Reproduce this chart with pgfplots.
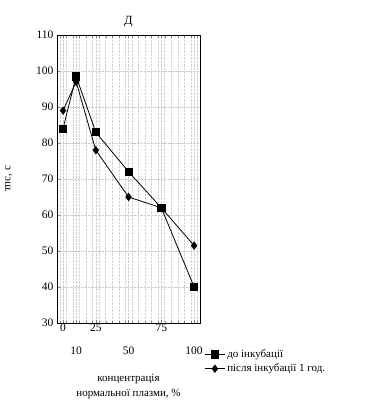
\documentclass[border=0pt]{standalone}
\usepackage{pgfplots}
\pgfplotsset{compat=1.18}
\usepackage{fontspec}
\setmainfont{Liberation Serif}
\begin{document}
\begin{tikzpicture}
\useasboundingbox (-57pt,-80pt) rectangle (313pt,323pt);
\begin{axis}[
  scale only axis,
  width=143pt, height=288pt,
  xmin=-4.6, xmax=104.5,
  ymin=30, ymax=110,
  ytick={30,40,50,60,70,80,90,100,110},
  xtick={0,10,25,50,75,100},
  xticklabels={0,{\strut\\10},25,{\strut\\50},75,{\strut\\100}},
  xticklabel style={align=center, anchor=north, font=\fontsize{11.5}{18}\selectfont, inner sep=1pt},
  yticklabel style={font=\fontsize{11.5}{13}\selectfont},
  /pgf/number format/assume math mode=true,
  minor xtick={-2.5,2.5,...,102.5},
  xmajorgrids, xminorgrids, ymajorgrids,
  grid style={densely dotted, gray!40, line width=0.4pt},
  minor grid style={densely dotted, gray!35, line width=0.4pt},
  tick align=inside,
  major tick length=3pt, minor tick length=2.5pt,
  xtick pos=both, ytick pos=left,
  axis line style={line width=0.9pt},
  title={Д},
  title style={font=\fontsize{12.5}{14}\selectfont, yshift=-2pt},
  ylabel={тпс, с},
  ylabel style={font=\fontsize{11}{13}\selectfont, at={(axis description cs:-0.29,0.5)}},
  xlabel={концентрація\\нормальної плазми, \%},
  xlabel style={align=center, font=\fontsize{11}{15}\selectfont, at={(axis description cs:0.5,-0.165)}, anchor=north},
  legend style={draw=none, fill=none, at={(axis description cs:1.03,-0.085)}, anchor=north west,
    font=\fontsize{11}{13}\selectfont, row sep=1pt, inner sep=0pt},
  legend cell align=left,
  legend image code/.code={
    \draw[#1] (0pt,0pt) -- (20pt,0pt);
    \draw[#1, only marks] plot coordinates {(10pt,0pt)};
  },
]
\addplot[black, line width=0.8pt, mark=square*, mark size=3.6pt] coordinates {
  (0,84) (10,98.5) (25,83) (50,72) (75,62) (100,40)
};
\addlegendentry{до інкубації}
\addplot[black, line width=0.8pt, mark=diamond*, mark size=3.6pt] coordinates {
  (0,89) (10,97) (25,78) (50,65) (75,62) (100,51.5)
};
\addlegendentry{після інкубації 1 год.}
\end{axis}
\end{tikzpicture}
\end{document}
